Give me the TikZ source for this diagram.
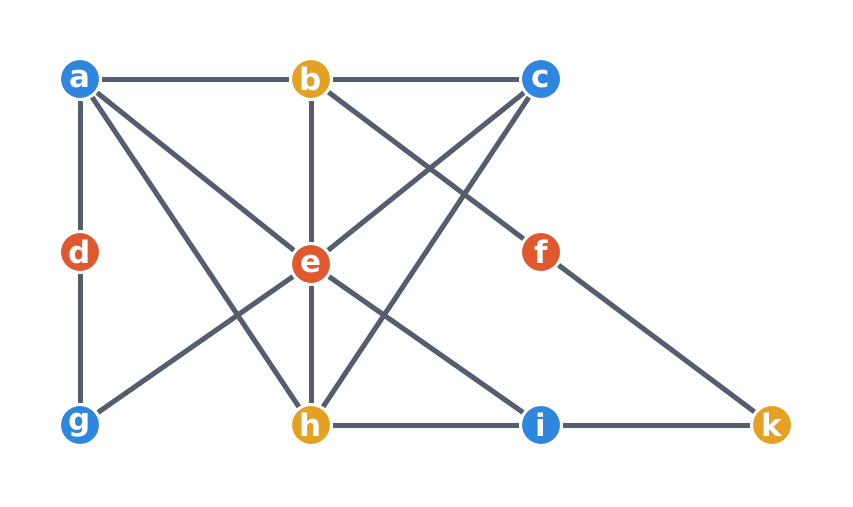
\documentclass[tikz,border=0pt]{standalone}
\usepackage{fontspec}
\usepackage{tikz}
\usetikzlibrary{positioning}
\newfontfamily\nodefont{DejaVu Sans}
\definecolor{nblue}{HTML}{2E86DE}
\definecolor{norange}{HTML}{E5A124}
\definecolor{nred}{HTML}{E0582E}
\definecolor{nedge}{HTML}{545E6E}

\begin{document}
\begin{tikzpicture}[x=1pt,y=-1pt,
						vertex/.style={circle,draw=white,line width=3pt,inner sep=0pt,minimum size=41pt,text=white,font=\nodefont\bfseries\fontsize{31}{31}\selectfont},
						blue/.style={vertex,fill=nblue},
						orange/.style={vertex,fill=norange},
						red/.style={vertex,fill=nred},
						edge/.style={draw=nedge,line width=5pt}]
		\useasboundingbox (0,0) rectangle (853,506);
		\node[blue] at (80,79)												(a)		{a};
		\node[orange,on grid,node distance=231pt,right=of a]					(b)		{b};
		\node[blue,on grid,node distance=230pt,right=of b]					(c)		{c};
		\node[red,on grid,node distance=173pt,below=of a]					(d)		{d};
		\node[red,on grid,node distance=185pt,below=of b]					(e)		{e};
		\node[red,on grid,node distance=173pt,below=of c]					(f)		{f};
		\node[blue,on grid,node distance=173pt,below=of d]					(g)		{g};
		\node[orange,on grid,node distance=346pt,below=of b]					(h)		{h};
		\node[blue,on grid,node distance=346pt,below=of c]					(i)		{i};
		\node[orange,on grid,node distance=231pt,right=of i]					(k)		{k};

		\draw[edge] (a) -- (b);
		\draw[edge] (b) -- (c);
		\draw[edge] (a) -- (d);
		\draw[edge] (d) -- (g);
		\draw[edge] (a) -- (e);
		\draw[edge] (a) -- (h);
		\draw[edge] (b) -- (e);
		\draw[edge] (b) -- (f);
		\draw[edge] (c) -- (e);
		\draw[edge] (c) -- (h);
		\draw[edge] (e) -- (g);
		\draw[edge] (e) -- (h);
		\draw[edge] (e) -- (i);
		\draw[edge] (f) -- (k);
		\draw[edge] (h) -- (i);
		\draw[edge] (i) -- (k);
	\end{tikzpicture}
\end{document}
